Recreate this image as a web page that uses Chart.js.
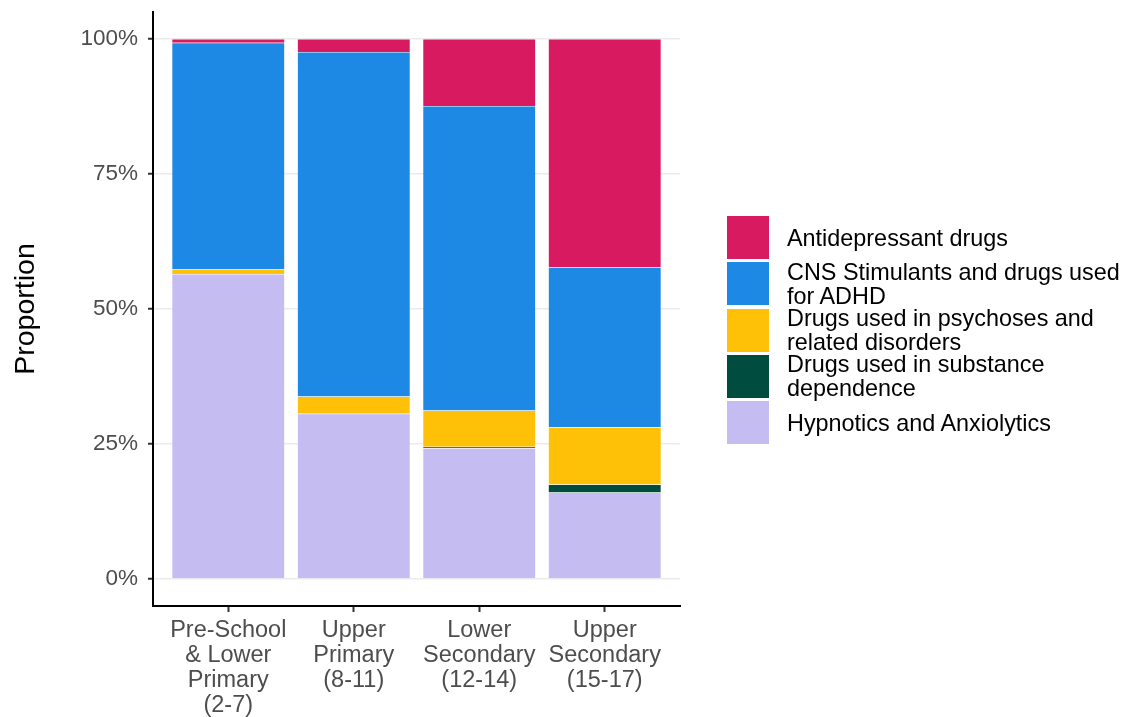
<!DOCTYPE html>
<html lang="en">
<head>
  <meta charset="UTF-8">
  <title>Proportion by age group</title>
  <script src="https://cdn.jsdelivr.net/npm/chart.js"></script>
  <style>
    body {
      margin: 0;
      background: #fff;
      font-family: 'Liberation Sans', Arial, sans-serif;
    }
    .wrap {
      position: relative;
      width: 1127px;
      height: 717px;
    }
    #legend {
      position: absolute;
      left: 727px;
      top: 216px;
    }
    .key {
      position: absolute;
      left: 0;
      width: 400px;
      height: 43px;
      display: flex;
      align-items: center;
    }
    .swatch {
      width: 42px;
      height: 43px;
      flex: none;
    }
    .label {
      margin-left: 18px;
      font-size: 23.4px;
      line-height: 24px;
      color: #000;
      white-space: nowrap;
    }
  </style>
</head>
<body>
  <div class="wrap">
    <canvas id="chart" width="1127" height="717"></canvas>
    <div id="legend"></div>
  </div>

  <script>
    // categories (x axis, multi-line labels)
    const ageGroups = [
      ['Pre-School', '& Lower', 'Primary', '(2-7)'],
      ['Upper', 'Primary', '(8-11)'],
      ['Lower', 'Secondary', '(12-14)'],
      ['Upper', 'Secondary', '(15-17)']
    ];

    // share of each drug group per age group (bottom to top of the stack)
    const hypnotics      = [0.565, 0.306, 0.242, 0.160];
    const substance      = [0.000, 0.000, 0.003, 0.015];
    const psychoses      = [0.009, 0.032, 0.067, 0.106];
    const stimulants     = [0.419, 0.638, 0.564, 0.296];
    const antidepressant = [0.007, 0.024, 0.124, 0.423];

    const yTicks = [0, 0.25, 0.5, 0.75, 1];

    // legend order, top to bottom
    const seriesNames = [
      ['Antidepressant drugs'],
      ['CNS Stimulants and drugs used', 'for ADHD'],
      ['Drugs used in psychoses and', 'related disorders'],
      ['Drugs used in substance', 'dependence'],
      ['Hypnotics and Anxiolytics']
    ];
    const seriesColors = ['#D81B60', '#1E88E5', '#FFC107', '#004D40', '#C5BDF2'];
    const seriesValues = [antidepressant, stimulants, psychoses, substance, hypnotics];

    const font = "'Liberation Sans', Arial, sans-serif";

    // stack from the bottom: reverse legend order
    const datasets = [];
    for (let i = seriesValues.length - 1; i >= 0; i--) {
      datasets.push({
        label: seriesNames[i].join(' '),
        data: seriesValues[i].map((v, j) => ({ x: j + 1, y: v })),
        backgroundColor: seriesColors[i],
        borderColor: 'rgba(255,255,255,0.2)',
        borderWidth: 0.5,
        categoryPercentage: 1,
        barPercentage: 0.9
      });
    }

    // drop the extra space chart.js keeps for half tick labels
    function noLabelPadding(s) {
      s.paddingTop = 0;
      s.paddingBottom = 0;
      s.paddingLeft = 0;
      s.paddingRight = 0;
    }

    new Chart(document.getElementById('chart'), {
      type: 'bar',
      data: { datasets: datasets },
      options: {
        responsive: false,
        animation: false,
        layout: { padding: { top: 12, right: 447, left: 0, bottom: 0 } },
        plugins: {
          legend: { display: false },
          tooltip: { enabled: false }
        },
        scales: {
          x: {
            type: 'linear',
            stacked: true,
            offset: false,
            min: 0.4,
            max: 4.6,
            afterFit: s => { s.height = 111; noLabelPadding(s); },
            afterBuildTicks: s => { s.ticks = ageGroups.map((g, i) => ({ value: i + 1 })); },
            ticks: {
              autoSkip: false,
              maxRotation: 0,
              padding: 6,
              color: '#4D4D4D',
              font: { family: font, size: 23.5, lineHeight: 1.07 },
              callback: v => ageGroups[Math.round(v) - 1]
            },
            grid: {
              offset: false,
              drawOnChartArea: false,
              drawTicks: true,
              tickLength: 6,
              tickColor: '#333',
              tickWidth: 2
            },
            border: { display: true, color: '#000', width: 2 }
          },
          y: {
            stacked: true,
            min: -0.05,
            max: 1.05,
            afterFit: s => { s.width = 153; noLabelPadding(s); },
            afterBuildTicks: s => { s.ticks = yTicks.map(v => ({ value: v })); },
            ticks: {
              padding: 10,
              color: '#4D4D4D',
              font: { family: font, size: 22.5 },
              callback: v => Math.round(v * 100) + '%'
            },
            grid: {
              color: '#EBEBEB',
              lineWidth: 1.5,
              drawTicks: true,
              tickLength: 5,
              tickColor: '#333',
              tickWidth: 2
            },
            border: { display: true, color: '#000', width: 2 },
            title: {
              display: true,
              text: 'Proportion',
              color: '#000',
              font: { family: font, size: 28.5 },
              padding: { top: 9, bottom: 0 }
            }
          }
        }
      }
    });

    // legend at the right
    const legend = document.getElementById('legend');
    seriesNames.forEach((name, i) => {
      const key = document.createElement('div');
      key.className = 'key';
      key.style.top = (i * 46.3) + 'px';
      const sw = document.createElement('div');
      sw.className = 'swatch';
      sw.style.background = seriesColors[i];
      const lab = document.createElement('div');
      lab.className = 'label';
      lab.innerHTML = name.join('<br>');
      key.appendChild(sw);
      key.appendChild(lab);
      legend.appendChild(key);
    });
  </script>
</body>
</html>
